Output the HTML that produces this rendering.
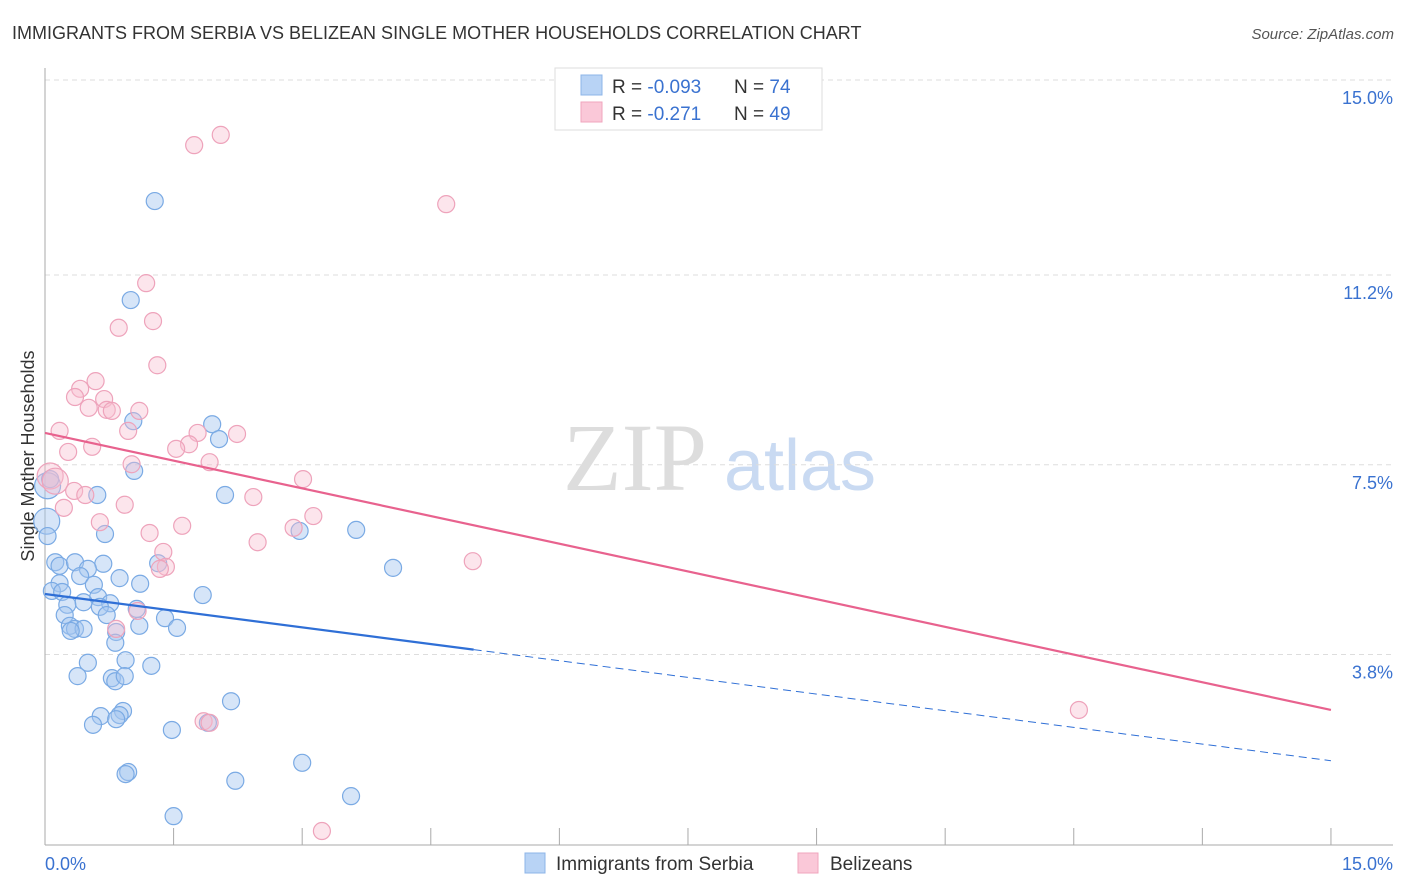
<!DOCTYPE html>
<html><head><meta charset="utf-8"><style>
body{margin:0;background:#fff;font-family:"Liberation Sans",sans-serif;}
svg{display:block}
</style></head><body>
<svg id="chart" width="1406" height="892" xmlns="http://www.w3.org/2000/svg">
<text x="12" y="39" font-size="18" fill="#333">IMMIGRANTS FROM SERBIA VS BELIZEAN SINGLE MOTHER HOUSEHOLDS CORRELATION CHART</text>
<text x="1394" y="39" font-size="15" fill="#555" font-style="italic" text-anchor="end">Source: ZipAtlas.com</text>
<text x="34" y="456" font-size="18" fill="#333" text-anchor="middle" transform="rotate(-90 34 456)">Single Mother Households</text>
<g>
<text x="635" y="490" font-size="96" fill="#ddd" font-family="Liberation Serif,serif" text-anchor="middle">ZIP</text>
<text x="800" y="490" font-size="72" fill="#c9daf2" text-anchor="middle">atlas</text>
</g>
<g id="grid"></g>
<g id="axes"></g>
<g id="pts"></g>
<g id="trend"></g>
<g>
<rect x="555" y="68" width="267" height="62" fill="#fff" stroke="#ddd"/>
<rect x="581" y="75" width="21" height="20" fill="#b8d3f5" stroke="#8db5e8"/>
<rect x="581" y="102" width="21" height="20" fill="#fac8d8" stroke="#f0a6be"/>
<text x="612" y="93" font-size="19" fill="#333">R = <tspan fill="#3a72d0">-0.093</tspan></text>
<text x="734" y="93" font-size="19" fill="#333">N = <tspan fill="#3a72d0">74</tspan></text>
<text x="612" y="120" font-size="19" fill="#333">R =  <tspan fill="#3a72d0">-0.271</tspan></text>
<text x="734" y="120" font-size="19" fill="#333">N = <tspan fill="#3a72d0">49</tspan></text>
</g>
<g>
<rect x="525" y="853" width="20" height="20" fill="#b8d3f5" stroke="#8db5e8"/>
<text x="556" y="870" font-size="19" fill="#333">Immigrants from Serbia</text>
<rect x="798" y="853" width="20" height="20" fill="#fac8d8" stroke="#f0a6be"/>
<text x="830" y="870" font-size="19" fill="#333">Belizeans</text>
</g>
</svg>
<script>
const yTicks=[15.0,11.2,7.5,3.8];
const yTickLabels=["15.0%","11.2%","7.5%","3.8%"];
const xTickLabels=["0.0%","15.0%"];
const serbiaX=[1.28,1.00,1.95,1.03,2.03,1.04,0.61,2.10,2.97,3.63,4.06,0.70,0.02,0.03,0.12,0.17,0.35,0.68,0.50,0.41,0.87,1.11,1.32,0.17,0.57,0.08,0.20,0.62,1.84,0.45,0.76,0.26,0.64,1.07,0.23,0.72,1.40,0.29,0.35,0.45,0.30,1.10,1.54,0.83,0.82,0.50,0.94,1.24,0.38,0.78,0.82,0.93,2.17,0.91,0.87,0.65,0.83,0.56,1.48,1.90,3.00,0.97,0.94,2.22,3.57,1.50,0.03,0.06];
const serbiaY=[12.64,10.71,8.29,8.35,8.00,7.38,6.91,6.91,6.21,6.23,5.49,6.15,6.40,6.11,5.60,5.53,5.60,5.57,5.47,5.33,5.29,5.18,5.58,5.19,5.16,5.04,5.02,4.92,4.96,4.82,4.80,4.77,4.73,4.69,4.57,4.57,4.51,4.36,4.30,4.30,4.26,4.36,4.32,4.24,4.03,3.64,3.69,3.58,3.38,3.34,3.28,3.38,2.89,2.70,2.62,2.60,2.54,2.43,2.33,2.47,1.69,1.51,1.47,1.34,1.04,0.65,7.09,7.22];
const serbiaBig=[12,66];
const belizeX=[2.05,1.74,4.68,1.18,0.86,1.26,1.31,0.59,0.41,0.35,0.69,0.51,0.72,0.78,1.10,0.17,0.97,1.78,2.24,1.68,1.53,0.55,0.27,1.92,1.01,0.06,0.12,0.34,0.47,0.93,0.22,2.43,3.01,0.64,1.60,1.22,2.90,3.13,2.48,1.38,1.41,1.34,4.99,1.08,0.83,1.85,1.92,3.23,12.06];
const belizeY=[13.93,13.73,12.58,11.04,10.17,10.30,9.44,9.13,8.98,8.82,8.78,8.61,8.57,8.55,8.55,8.16,8.16,8.12,8.10,7.90,7.81,7.85,7.75,7.55,7.51,7.28,7.18,6.99,6.91,6.72,6.66,6.87,7.22,6.38,6.31,6.17,6.27,6.50,5.99,5.80,5.51,5.47,5.62,4.65,4.30,2.50,2.47,0.36,2.72];
const belizeBig=[25,26];
const serbiaTrend=[4.98,1.73], serbiaSolidEnd=5.0;
const belizeTrend=[8.12,2.72];
const NS='http://www.w3.org/2000/svg';
const X=v=>45+v*85.73, Y=v=>80+(15-v)*51.3;
function mk(tag,attrs,parent){const e=document.createElementNS(NS,tag);for(const k in attrs)e.setAttribute(k,attrs[k]);document.getElementById(parent).appendChild(e);return e;}
yTicks.forEach((t,i)=>{
 const l=mk('line',{x1:45,x2:1393,y1:Y(t),y2:Y(t),stroke:'#ddd','stroke-dasharray':'5,4'},'grid');
 
 
 const tx=mk('text',{x:1393,y:Y(t)+24,'font-size':18,fill:'#3a72d0','text-anchor':'end'},'grid');
 tx.textContent=yTickLabels[i];
 
 
});
const ax=mk('line',{x1:45,x2:45,y1:68,y2:845,stroke:'#aaa'},'axes');


const bx=mk('line',{x1:45,x2:1393,y1:845,y2:845,stroke:'#aaa'},'axes');


for(let i=1;i<=10;i++){const t=mk('line',{x1:X(i*1.5),x2:X(i*1.5),y1:828,y2:845,stroke:'#aaa'},'axes');
 
 }
const xl0=mk('text',{x:45,y:870,'font-size':18,fill:'#3a72d0'},'axes');xl0.textContent=xTickLabels[0];


const xl1=mk('text',{x:1393,y:870,'font-size':18,fill:'#3a72d0','text-anchor':'end'},'axes');xl1.textContent=xTickLabels[1];


serbiaX.forEach((x,i)=>{const c=mk('circle',{cx:X(x),cy:Y(serbiaY[i]),r:serbiaBig.includes(i)?13:8.5,fill:'rgba(164,198,240,0.45)',stroke:'#7aaae4','stroke-width':1.2},'pts');
 
 });
belizeX.forEach((x,i)=>{const c=mk('circle',{cx:X(x),cy:Y(belizeY[i]),r:belizeBig.includes(i)?13:8.5,fill:'rgba(248,190,208,0.4)',stroke:'#eea3bb','stroke-width':1.2},'pts');
 
 });
const sy=x=>serbiaTrend[0]+(serbiaTrend[1]-serbiaTrend[0])*x/15;
const t1=mk('line',{x1:X(0),y1:Y(sy(0)),x2:X(serbiaSolidEnd),y2:Y(sy(serbiaSolidEnd)),stroke:'#2f6fd6','stroke-width':2.2},'trend');


const t2=mk('line',{x1:X(serbiaSolidEnd),y1:Y(sy(serbiaSolidEnd)),x2:X(15),y2:Y(sy(15)),stroke:'#2f6fd6','stroke-width':1,'stroke-dasharray':'8,5'},'trend');


const t3=mk('line',{x1:X(0),y1:Y(belizeTrend[0]),x2:X(15),y2:Y(belizeTrend[1]),stroke:'#e8628e','stroke-width':2.2},'trend');


</script>
</body></html>
